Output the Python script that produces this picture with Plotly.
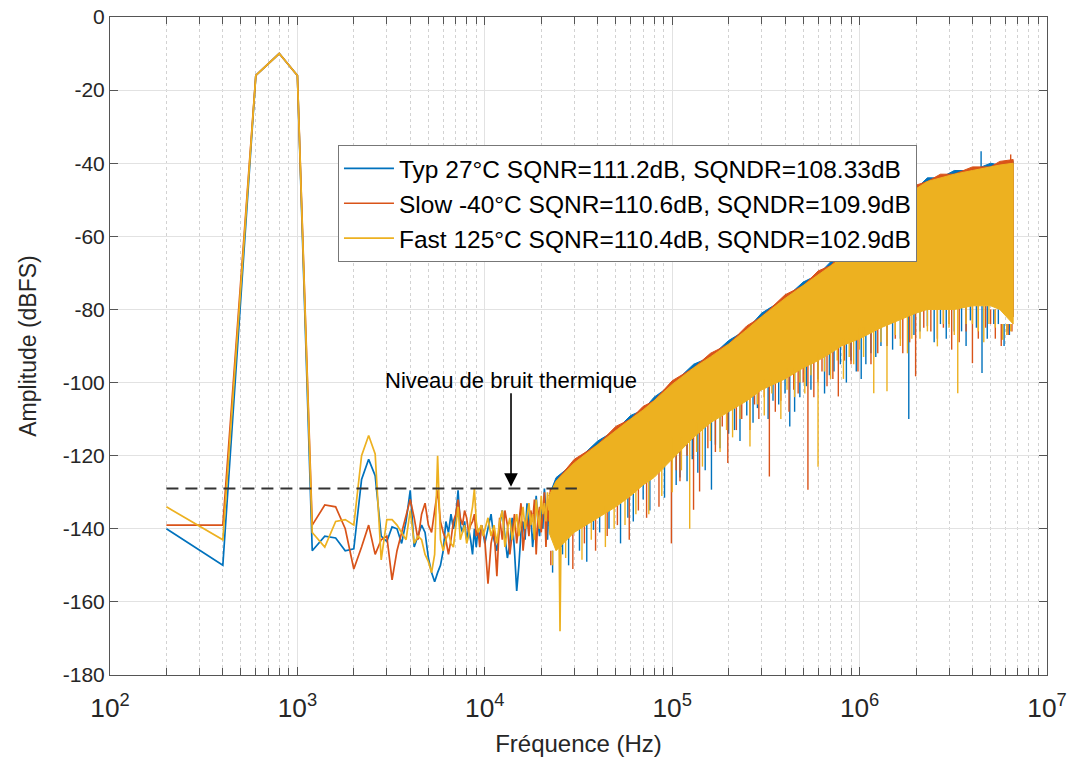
import math
import plotly.graph_objects as go

# ---------------- data ----------------
series_names = [
    "Typ 27°C SQNR=111.2dB, SQNDR=108.33dB",
    "Slow -40°C SQNR=110.6dB, SQNDR=109.9dB",
    "Fast 125°C SQNR=110.4dB, SQNDR=102.9dB",
]
colors = ["#0072BD", "#D95319", "#EDB120"]

# FFT bins read individually (Hz)
freq_lo = [200, 400, 600, 800, 1000, 1200, 1400, 1600, 1800, 2000,
           2200, 2400, 2600, 2800, 3000, 3200, 3400, 3600, 3800, 4000,
           4200, 4400, 4600, 4800, 5000, 5200, 5400, 5600, 5800, 6000,
           6200, 6400, 6600, 6800, 7000, 7200, 7400, 7600, 7800, 8000,
           8200, 8400, 8600, 8800, 9000, 9200, 9400, 9600, 9800, 10000,
           10400, 10800, 11200, 11600, 12000, 12400, 12800, 13200, 13600, 14000,
           14400, 14800, 15200, 15600, 16000, 16400, 16800, 17200, 17600, 18000,
           18400, 18800, 19200, 19600, 20000, 20400, 20800, 21200, 21600, 22000,
           22400, 22800, 23200, 23600, 24000, 24400, 24800, 25200, 25600, 26000]

typ_lo = [-140, -150, -16, -10, -16, -146, -142, -142.5, -146, -145.5,
          -126.5, -121, -125.5, -142, -143.5, -139.5, -140, -144, -138, -129.5,
          -145, -142, -139, -141, -148, -152, -154.5, -152, -150, -146,
          -138, -141, -136, -140, -137, -129.5, -139, -141, -138, -143,
          -140, -143, -147, -140, -145, -140, -143, -139, -141, -144,
          -140, -136, -143, -146, -139, -135, -142, -148, -144, -137,
          -146, -157, -150, -141, -138, -143, -133, -140, -136, -145,
          -139, -131, -138, -142, -134, -140, -129, -137, -143, -132,
          -138, -135, -141, -130, -136, -140, -133, -137, -145, -134]

slow_lo = [-139, -139, -16, -10, -16, -139, -133.5, -134, -140, -151,
           -145, -139, -147, -143, -142, -154, -146, -141, -136, -132,
           -137, -143, -136, -133, -139, -141, -135, -129.5, -138, -141,
           -143, -147, -143, -138, -136, -132, -137, -139, -135, -137,
           -141, -139, -138, -136, -142, -140, -145, -139, -141, -143,
           -155, -144, -140, -153, -137, -143, -135, -139, -147, -141,
           -136, -144, -139, -133, -146, -140, -137, -142, -135, -138,
           -132, -147, -137, -134, -141, -136, -130, -145, -133, -138,
           -129, -140, -134, -137, -131, -136, -142, -131, -139, -135]

fast_lo = [-134, -143, -16, -10, -16, -141, -145, -138, -137.5, -139,
           -120, -114.5, -119.5, -148.5, -137.5, -137.5, -139, -141, -143, -135,
           -144, -142, -143, -147, -149, -152, -147, -120, -143, -146,
           -143, -141, -144, -145, -140, -134, -143, -141, -139, -144,
           -142, -137, -134, -129, -138, -141, -140, -139, -142, -140,
           -137, -142, -139, -144, -138, -135, -145, -140, -137, -143,
           -139, -136, -142, -138, -134, -140, -137, -133, -139, -136,
           -143, -132, -137, -140, -131, -136, -133, -138, -130, -135,
           -132, -137, -129, -134, -131, -137, -132, -168, -133, -130]

# dense high-frequency region: envelope of the spectrum (Hz, dBFS)
band_f = [2.2e4, 2.4e4, 3e4, 4e4, 5e4, 6e4, 7e4, 8e4, 1e5, 1.3e5,
          1.6e5, 2e5, 2.5e5, 3e5, 4e5, 5e5, 6e5, 7e5, 8e5, 1e6,
          1.3e6, 1.6e6, 2e6, 2.3e6, 2.7e6, 3.2e6, 4e6, 5e6, 5.6e6, 6.6e6]

fast_up = [-131, -127, -122, -117, -113, -110, -107.5, -105, -100.5, -96,
           -93, -89.5, -85.5, -82, -77, -73.5, -70.5, -68, -66, -62,
           -57, -52, -47, -45, -44, -43, -42, -41, -40.5, -40]
fast_dn = [-141, -146, -141, -137, -134, -131, -128, -126, -121, -115,
           -111, -108, -105, -102, -99, -96, -94, -92, -90, -88,
           -85, -83, -81, -80, -80, -80, -79, -79, -80, -84]

typ_up = [-131, -126, -122, -116, -113, -109, -107.5, -104, -100.5, -95,
          -93, -88.5, -85.5, -81, -77, -72.5, -70.5, -67, -66, -61,
          -57, -51, -47, -44, -44, -42, -42, -40, -40.5, -39.5]
typ_dn = [-139, -144, -139, -135, -132, -129, -126, -124, -119, -113,
          -109, -106, -103, -100, -97, -94, -92, -90, -88, -86,
          -83, -81, -79, -78, -78, -78, -77, -77, -78, -82]

slow_up = [-131, -127, -121, -117, -112, -110, -106.5, -105, -99.5, -96,
           -92, -89.5, -84.5, -82, -76, -73.5, -69.5, -68, -65, -62,
           -56, -52, -46, -45, -43, -43, -41, -41, -39.5, -39]
slow_dn = [-139, -144, -139, -135, -132, -129, -126, -124, -119, -113,
           -109, -106, -103, -100, -97, -94, -92, -90, -88, -86,
           -83, -81, -79, -78, -78, -78, -77, -77, -78, -82]

# isolated deep bins (downward spikes) below the dense region: frequency, level
typ_spk_f = [2.3e4, 2.6e4, 2.8e4, 3.2e4, 3.5e4, 3.8e4, 4.1e4, 4.6e4, 5.3e4, 5.8e4,
             6.2e4, 7.0e4, 7.6e4, 9.1e4, 1.05e5, 1.2e5, 1.37e5, 1.5e5, 1.62e5, 1.8e5,
             2.0e5, 2.3e5, 2.7e5, 3.25e5, 3.7e5, 4.24e5, 4.8e5, 5.5e5, 6.5e5, 7.3e5,
             8.5e5, 9.6e5, 1.02e6, 1.15e6, 1.3e6, 1.5e6, 1.83e6, 2.1e6, 2.3e6, 2.9e6,
             3.5e6, 3.9e6, 4.5e6, 5.2e6, 5.9e6, 6.3e6,
             1.1e5, 1.28e5, 1.7e5, 2.15e5, 2.5e5, 2.85e5, 3.45e5, 4.0e5, 4.5e5, 5.2e5,
             6.0e5, 6.9e5, 7.9e5, 9.0e5, 1.08e6, 1.22e6, 1.4e6, 1.65e6, 1.95e6, 2.5e6,
             2.7e6, 3.2e6, 3.7e6, 4.2e6, 4.8e6, 5.5e6, 6.1e6]
typ_spk_db = [-152, -147, -150, -146, -149, -140.3, -141, -140, -144, -137,
              -138, -132, -135, -131.5, -128, -127, -124.7, -124, -129.3, -118,
              -114, -116, -111, -110, -106, -112, -104, -102, -103, -97,
              -100, -97, -99, -92, -90, -91, -110, -86, -84.6, -88,
              -86, -83, -97.4, -84, -90, -87,
              -126, -121, -117, -113, -109, -107, -105, -103, -108, -101,
              -99, -98, -95, -94, -95, -93, -90, -88, -87, -89,
              -84, -86, -90, -85, -88, -84, -86]

slow_spk_f = [2.25e4, 2.5e4, 2.95e4, 3.4e4, 3.9e4, 4.5e4, 5.1e4, 5.9e4, 6.6e4, 7.3e4,
              8.5e4, 9.9e4, 1.1e5, 1.3e5, 1.4e5, 1.7e5, 1.98e5, 2.2e5, 2.6e5, 2.9e5,
              3.3e5, 3.8e5, 4.2e5, 4.7e5, 5.3e5, 6.0e5, 6.7e5, 7.7e5, 9e5, 1.15e6,
              1.4e6, 1.7e6, 1.99e6, 2.4e6, 2.8e6, 3.1e6, 3.4e6, 4.0e6, 4.7e6, 5.3e6,
              6.2e6,
              1.05e5, 1.2e5, 1.55e5, 1.85e5, 2.35e5, 2.75e5, 3.1e5, 3.55e5, 4.45e5, 5.0e5,
              5.7e5, 6.3e5, 7.2e5, 8.3e5, 9.8e5, 1.25e6, 1.55e6, 1.85e6, 2.2e6, 2.6e6,
              3.0e6, 3.7e6, 4.3e6, 5.0e6, 5.7e6, 6.5e6]
slow_spk_db = [-150, -145, -151, -144, -146, -142, -139, -143, -135, -137,
               -134, -144, -127, -134.8, -129.8, -119, -122, -113, -113, -110,
               -125.7, -105, -108, -103, -129.3, -100, -101, -103.8, -95, -95,
               -90, -92, -98.3, -86, -85, -91, -89, -94.7, -85, -88,
               -87,
               -124, -120, -118, -112, -110, -106, -104, -108, -102, -100,
               -104, -97, -99, -94, -97, -92, -88, -89, -85, -88,
               -84, -86, -88, -84, -90, -86]

fast_spk_f = [2.3e4, 2.7e4, 3.3e4, 3.7e4, 4.4e4, 4.9e4, 5.6e4, 6.4e4, 7.5e4, 8.8e4,
              1.0e5, 1.24e5, 1.45e5, 1.8e5, 2.1e5, 2.6e5, 3.1e5, 3.8e5, 4.5e5, 5.1e5,
              6.0e5, 7.0e5, 8.2e5, 9.3e5, 1.05e6, 1.19e6, 1.4e6, 1.65e6, 1.9e6, 2.1e6,
              2.6e6, 3.0e6, 3.34e6, 3.7e6, 4.3e6, 4.9e6, 5.8e6, 6.4e6,
              1.12e5, 1.35e5, 1.6e5, 1.95e5, 2.3e5, 2.85e5, 3.4e5, 4.1e5, 4.8e5, 5.5e5,
              6.5e5, 7.6e5, 8.8e5, 1.0e6, 1.3e6, 1.55e6, 1.8e6, 2.3e6, 2.8e6, 3.2e6,
              4.0e6, 4.6e6, 5.3e6, 6.1e6]
fast_spk_db = [-150, -148, -148.5, -143, -145, -140, -139, -136, -136, -131,
               -130, -140, -123, -119, -115, -117.5, -109, -110, -104, -103,
               -123, -99, -99, -95, -93, -102.9, -102.4, -90, -88, -88,
               -90.1, -85, -102.9, -84, -86, -84, -88.3, -86,
               -124, -119, -116, -113, -110, -106, -103, -102, -100, -98,
               -97, -94, -93, -91, -89, -87, -92, -86, -84, -87,
               -84, -89, -85, -87]

# isolated high bins (upward spikes) above the dense region
typ_peak_f = [4.45e6]
typ_peak_db = [-36.7]
slow_peak_f = [6.4e6]
slow_peak_db = [-37.6]
fast_peak_f = []
fast_peak_db = []

# thermal noise floor reference and its annotation
noise_floor_db = -129
noise_f_start = 200
noise_f_end = 31000
annot_text = "Niveau de bruit thermique"
annot_f = 13800
annot_text_db = -99.5
annot_tail_db = -102.5
annot_tip_db = -128.5

x_title = "Fréquence (Hz)"
y_title = "Amplitude (dBFS)"
y_tickvals = [0, -20, -40, -60, -80, -100, -120, -140, -160, -180]
y_ticktext = ["0", "-20", "-40", "-60", "-80", "-100", "-120", "-140", "-160", "-180"]

# ---------------- figure ----------------
FONT = "Arial, Liberation Sans, Helvetica, sans-serif"
fig = go.Figure()

groups = ["typ", "slow", "fast"]
lows = [typ_lo, slow_lo, fast_lo]
ups = [typ_up, slow_up, fast_up]
dns = [typ_dn, slow_dn, fast_dn]
spikes = [(typ_spk_f, typ_spk_db), (slow_spk_f, slow_spk_db), (fast_spk_f, fast_spk_db)]
peaks = [(typ_peak_f, typ_peak_db), (slow_peak_f, slow_peak_db), (fast_peak_f, fast_peak_db)]


def band_index(f):
    k = 0
    while k < len(band_f) - 2 and band_f[k + 1] <= f:
        k += 1
    return k


for i in range(3):
    c = colors[i]
    fig.add_trace(go.Scatter(
        x=freq_lo, y=lows[i], mode="lines", name=series_names[i],
        line=dict(color=c, width=1.7), legendgroup=groups[i], showlegend=True,
        hoverinfo="skip"))
    fig.add_trace(go.Scatter(
        x=band_f + band_f[::-1], y=ups[i] + dns[i][::-1], mode="lines",
        fill="toself", fillcolor=c, line=dict(color=c, width=1),
        legendgroup=groups[i], showlegend=False, hoverinfo="skip"))
    sx, sy = [], []
    # each deep bin starts inside the dense band (band lower edge of the next band point)
    for f, v in zip(*spikes[i]):
        k = band_index(f)
        sx += [f, f, None]
        sy += [fast_dn[k + 1], v, None]
    for f, v in zip(*peaks[i]):
        k = band_index(f)
        sx += [f, f, None]
        sy += [fast_up[k], v, None]
    fig.add_trace(go.Scatter(
        x=sx, y=sy, mode="lines", line=dict(color=c, width=1.4),
        legendgroup=groups[i], showlegend=False, hoverinfo="skip"))

fig.add_trace(go.Scatter(
    x=[noise_f_start, noise_f_end], y=[noise_floor_db, noise_floor_db],
    mode="lines", line=dict(color="#333333", width=2, dash="12px,7px"),
    showlegend=False, hoverinfo="skip"))

fig.add_annotation(
    x=math.log10(annot_f), y=annot_tip_db, ax=math.log10(annot_f), ay=annot_tail_db,
    xref="x", yref="y", axref="x", ayref="y", text="", showarrow=True,
    arrowhead=2, arrowsize=1.7, arrowwidth=1.6, arrowcolor="black", standoff=0)
fig.add_annotation(
    x=math.log10(annot_f), y=annot_text_db, xref="x", yref="y", text=annot_text,
    showarrow=False, font=dict(family=FONT, size=22, color="black"),
    xanchor="center", yanchor="middle")

axis_common = dict(
    showline=True, linecolor="#555555", linewidth=1, mirror="ticks",
    ticks="inside", ticklen=8, tickcolor="#555555", automargin=False,
    showgrid=True, gridcolor="#e2e2e2", gridwidth=1, zeroline=False,
    tickfont=dict(family=FONT, size=21, color="#262626"),
)

fig.update_xaxes(
    type="log", range=[2, 7], dtick=1, exponentformat="power", showexponent="all",
    ticklabelstandoff=11,
    title=dict(text=x_title, font=dict(family=FONT, size=24, color="#262626"), standoff=12),
    minor=dict(dtick="D1", ticks="inside", ticklen=7, tickcolor="#555555",
               showgrid=True, gridcolor="#d2d2d2", griddash="dot", gridwidth=1),
    **axis_common)
fig.update_yaxes(
    range=[-180, 0], tickvals=y_tickvals, ticktext=y_ticktext,
    title=dict(text=y_title, font=dict(family=FONT, size=23, color="#262626"), standoff=19),
    **axis_common)

fig.update_layout(
    width=1071, height=758,
    margin=dict(l=110, r=24, t=17, b=83),
    paper_bgcolor="white", plot_bgcolor="white",
    font=dict(family=FONT, color="#262626"),
    legend=dict(x=0.2433, y=0.8055, xanchor="left", yanchor="top",
                bgcolor="white", bordercolor="#777777", borderwidth=1,
                font=dict(family=FONT, size=24.5, color="black"),
                traceorder="grouped", tracegroupgap=0, itemwidth=50),
)

fig.write_html("out.html")
